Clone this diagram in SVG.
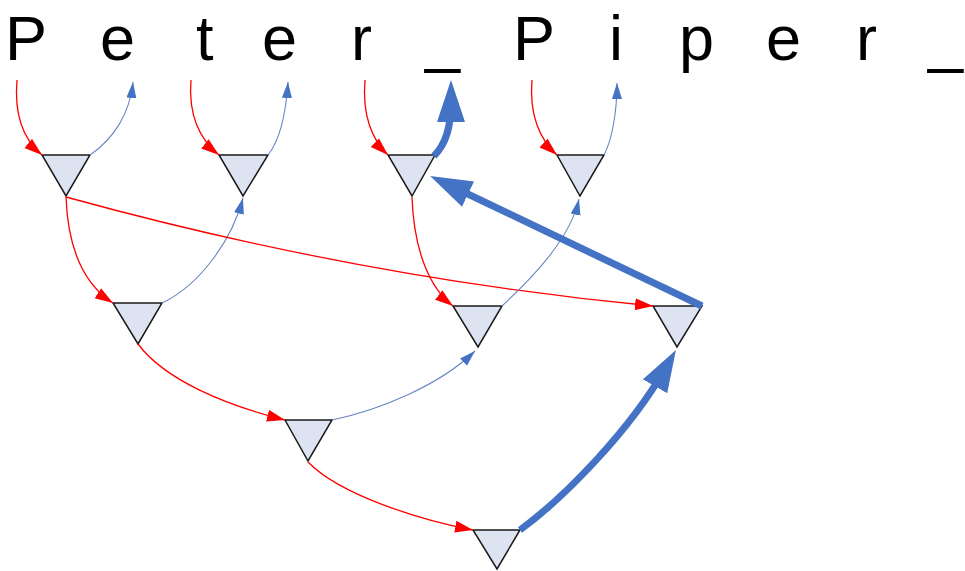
<svg xmlns="http://www.w3.org/2000/svg" width="965" height="571" viewBox="0 0 965 571">
<defs>
<style>
.node polygon{fill:#dde3f1;stroke:#1a1a1a;stroke-width:1.5;stroke-linejoin:miter}
.r{fill:none;stroke:#ff0000;stroke-width:1.3}
.b{fill:none;stroke:#6a86c4;stroke-width:1.1}
.B{fill:none;stroke:#4472c4;stroke-width:7}
.lbl{font-family:"Liberation Sans",Arial,sans-serif;font-size:63px;fill:#000}
</style>
<marker id="ar" markerUnits="userSpaceOnUse" markerWidth="19" markerHeight="13" refX="18" refY="6" orient="auto"><path d="M0,0 L18,6 L0,12 z" fill="#ff0000"/></marker>
<marker id="ab" markerUnits="userSpaceOnUse" markerWidth="18" markerHeight="12" refX="16" refY="5" orient="auto"><path d="M0,0 L16,5 L0,10 z" fill="#4472c4"/></marker>
<marker id="aB" markerUnits="userSpaceOnUse" markerWidth="44" markerHeight="30" refX="20" refY="14" orient="auto"><path d="M0,0 L42,14 L0,28 z" fill="#4472c4"/></marker>
</defs>
<rect width="965" height="571" fill="#ffffff"/>
<text class="lbl" x="5 100 196 262 351 425 513 609 679 766 856 928" y="60">Peter_Piper_</text>
<g id="nodes">
<g id="n1" class="node"><polygon points="42,155 90,155 66,196"/></g>
<g id="n2" class="node"><polygon points="219,155 268,155 243,196"/></g>
<g id="n3" class="node"><polygon points="388,155 435,155 412,196"/></g>
<g id="n4" class="node"><polygon points="557,155 604,155 580,196"/></g>
<g id="n5" class="node"><polygon points="113,303 162,303 138,344"/></g>
<g id="n6" class="node"><polygon points="453,306 502,306 478,347"/></g>
<g id="n7" class="node"><polygon points="653,306 702,306 677,347"/></g>
<g id="n8" class="node"><polygon points="285,420 332,420 308,461"/></g>
<g id="n9" class="node"><polygon points="473,530 520,530 497,569"/></g>
</g>
<g id="connectors">
<path class="r" marker-end="url(#ar)" d="M17,80 C14,115 24,140 42,155"/>
<path class="b" marker-end="url(#ab)" d="M90,155 C115,138 130,112 133,82"/>
<path class="r" marker-end="url(#ar)" d="M191,80 C188,115 200,140 219,155"/>
<path class="b" marker-end="url(#ab)" d="M268,155 C280,140 286,112 288,82"/>
<path class="r" marker-end="url(#ar)" d="M365,80 C362,115 372,140 388,155"/>
<path class="r" marker-end="url(#ar)" d="M532,80 C529,115 540,140 557,155"/>
<path class="b" marker-end="url(#ab)" d="M604,155 C612,140 617,112 617,83"/>
<path class="r" marker-end="url(#ar)" d="M66,197 C68,250 85,285 113,303"/>
<path class="b" marker-end="url(#ab)" d="M162,303 C200,285 232,240 243,198"/>
<path class="r" marker-end="url(#ar)" d="M66,197 Q360,278 653,306"/>
<path class="r" marker-end="url(#ar)" d="M412,197 C414,255 432,290 453,306"/>
<path class="b" marker-end="url(#ab)" d="M502,306 C530,280 570,240 579,199"/>
<path class="r" marker-end="url(#ar)" d="M138,344 C165,380 225,405 285,420"/>
<path class="b" marker-end="url(#ab)" d="M332,420 C380,410 440,385 475,351"/>
<path class="r" marker-end="url(#ar)" d="M308,462 C340,495 420,520 473,530"/>
<path class="B" marker-end="url(#aB)" d="M434,156 C447,143 451,125 451,102"/>
<path class="B" marker-end="url(#aB)" d="M702,306 L450,185.5"/>
<path class="B" marker-end="url(#aB)" d="M520,530 C565,497 630,430 665,369"/>
</g>
</svg>
